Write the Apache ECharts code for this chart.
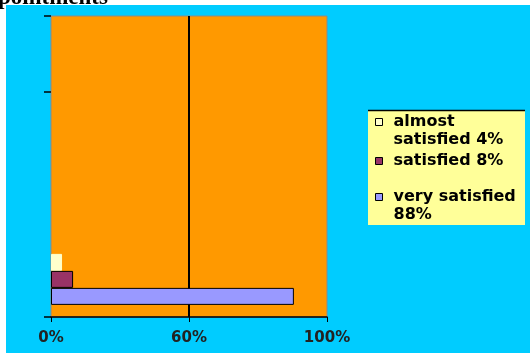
<!DOCTYPE html>
<html><head><meta charset="utf-8">
<script src="https://cdn.jsdelivr.net/npm/echarts@6/dist/echarts.min.js"></script>
<style>html,body{margin:0;padding:0;background:#fff}#c{width:530px;height:358px}</style>
</head><body><div id="c"></div>
<script>
const titleText = 'pointments';
const categories = ['', '', '', ''];
const xTickLabels = ['0%', '60%', '100%'];
const seriesNames = ['almost\nsatisfied 4%', 'satisfied 8%', 'very satisfied\n88%'];
const almostSatisfied = [4, '-', '-', '-'];
const satisfied = [8, '-', '-', '-'];
const verySatisfied = [88, '-', '-', '-'];
const seriesValues = [almostSatisfied, satisfied, verySatisfied];
const seriesColors = ['#FFFFCC', '#993366', '#9999FF'];

const chart = echarts.init(document.getElementById('c'), null, {renderer: 'canvas'});
const legendText = {fontFamily: 'DejaVu Sans', fontWeight: 'bold', fontSize: 16, lineHeight: 18, color: '#000', padding: [0, 0, 0, 6]};
function mkLegend(name, top, twoLine) {
  return {
    data: [name],
    formatter: n => twoLine ? '\n' + n : n,
    left: 375, top: top, padding: 0, orient: 'vertical',
    icon: 'rect', itemWidth: 7, itemHeight: 7, selectedMode: false,
    itemStyle: {borderColor: '#000', borderWidth: 1},
    textStyle: legendText
  };
}
chart.setOption({
  backgroundColor: '#fff',
  animation: false,
  graphic: [
    {type: 'rect', z: -10, shape: {x: 6, y: 5, width: 524, height: 348}, style: {fill: '#00CCFF'}},
    {type: 'text', z: -5, left: -2, top: -13,
      style: {text: titleText, font: 'bold 23px "Liberation Serif"', fill: '#000'}},
    {type: 'rect', z: -5, shape: {x: 368, y: 110, width: 157, height: 115}, style: {fill: '#FFFF99'}},
    {type: 'line', z: -4, shape: {x1: 368, y1: 110.5, x2: 525, y2: 110.5}, style: {stroke: '#000', lineWidth: 1.5}}
  ],
  grid: {left: 51, right: 203, top: 16, bottom: 41, show: true,
    backgroundColor: '#FF9900', borderColor: '#8a8a8a', borderWidth: 1},
  xAxis: {
    type: 'value', min: 0, max: 100, interval: 50,
    axisLine: {show: true, lineStyle: {color: '#000', width: 1.5}},
    axisTick: {show: true, length: 5, lineStyle: {color: '#000'}},
    splitLine: {show: true, showMinLine: false, showMaxLine: false, lineStyle: {color: '#000', width: 2}},
    axisLabel: {formatter: v => xTickLabels[Math.round(v / 50)], fontFamily: 'DejaVu Sans', fontWeight: 'bold',
      fontSize: 15, color: '#222', margin: 14}
  },
  yAxis: {
    type: 'category', data: categories,
    axisLine: {show: false},
    axisTick: {show: true, length: 7, interval: (i) => i === 0 || i === 3, lineStyle: {color: '#000', width: 1.5}},
    axisLabel: {show: false},
    splitLine: {show: false}
  },
  legend: [
    mkLegend(seriesNames[0], 95, true),
    mkLegend(seriesNames[1], 152, false),
    mkLegend(seriesNames[2], 170, true)
  ],
  series: seriesNames.map((n, i) => ({
    type: 'bar', name: n, data: seriesValues[i], barWidth: 17, barGap: '0%',
    itemStyle: {color: seriesColors[i], borderColor: i === 0 ? '#FFFFCC' : '#000', borderWidth: 1}
  }))
});
</script></body></html>
